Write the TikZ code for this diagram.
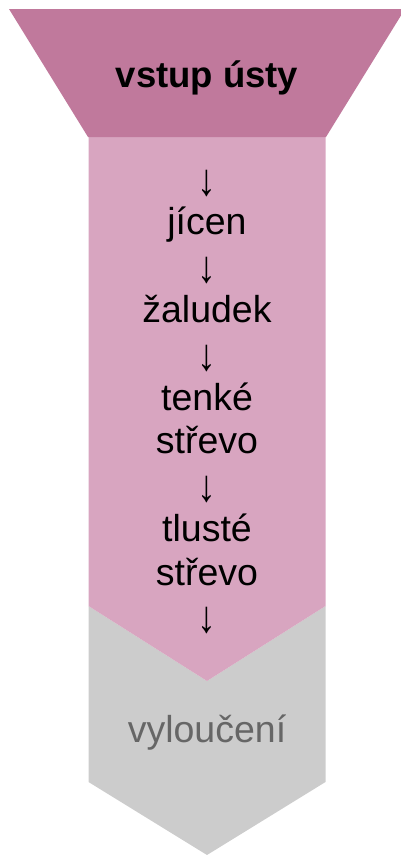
\documentclass[tikz,border=0pt]{standalone}
\usepackage{fontspec}
\usepackage{graphicx}
\setmainfont{Liberation Sans}
\definecolor{funnel}{HTML}{C0799C}
\definecolor{body}{HTML}{D8A5C0}
\definecolor{outgrey}{HTML}{CCCCCC}
\definecolor{outtext}{HTML}{666666}
\newcommand{\dnarrow}{\raisebox{-4pt}{\scalebox{1}[1.2]{↓}}}
\begin{document}
\begin{tikzpicture}[x=1pt,y=-1pt,
  lbl/.style={inner sep=0pt,font=\fontsize{37.5}{43.8}\selectfont,align=center}]
\useasboundingbox (0,0) rectangle (401,855);
\clip (0,0) rectangle (401,855);
% grey exit chevron
\fill[outgrey] (88.5,606) -- (207,681) -- (325.5,606) -- (325.5,782) -- (207,855) -- (88.5,782) -- cycle;
% pink body chevron
\fill[body] (88.5,136) -- (325.5,136) -- (325.5,606) -- (207,681) -- (88.5,606) -- cycle;
% funnel top
\fill[funnel] (9,9) -- (405,9) -- (326,137) -- (88,137) -- cycle;
\node[lbl,font=\fontsize{36.5}{42}\selectfont\bfseries] (top) at (207,78) {vstup ústy};
\node[lbl,anchor=north] (mid) at (207,169.5) {\dnarrow\\jícen\\\dnarrow\\žaludek\\\dnarrow\\tenké\\střevo\\\dnarrow\\tlusté\\střevo\\\dnarrow};
\node[lbl,text=outtext] (out) at (207,733) {vyloučení};
\end{tikzpicture}
\end{document}
